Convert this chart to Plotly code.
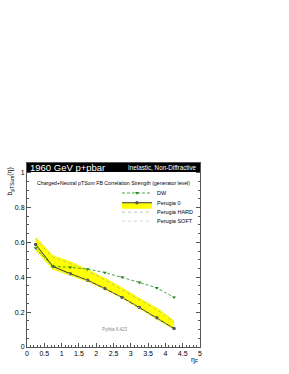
import plotly.graph_objects as go

eta = [0.25, 0.75, 1.25, 1.75, 2.25, 2.75, 3.25, 3.75, 4.25]
dw = [0.567, 0.462, 0.457, 0.447, 0.427, 0.400, 0.370, 0.339, 0.285]
perugia0 = [0.588, 0.462, 0.420, 0.383, 0.335, 0.284, 0.226, 0.167, 0.106]
band_upper = [0.630, 0.525, 0.490, 0.445, 0.395, 0.340, 0.280, 0.225, 0.150]
band_lower = [0.555, 0.445, 0.410, 0.375, 0.330, 0.280, 0.220, 0.160, 0.100]
perugia_hard = [0.620, 0.515, 0.480, 0.435, 0.385, 0.330, 0.272, 0.215, 0.143]
perugia_soft = [0.565, 0.452, 0.415, 0.380, 0.333, 0.282, 0.223, 0.163, 0.103]

x_ticks = [0, 0.5, 1, 1.5, 2, 2.5, 3, 3.5, 4, 4.5, 5]
x_tick_labels = ["0", "0.5", "1", "1.5", "2", "2.5", "3", "3.5", "4", "4.5", "5"]
y_ticks = [0, 0.2, 0.4, 0.6, 0.8, 1.0]
y_tick_labels = ["0", "0.2", "0.4", "0.6", "0.8", "1"]

FONT = "Liberation Sans, Arial, sans-serif"
YELLOW = "#ffff00"
GREEN = "#1f8a1f"
DARK = "#333333"

fig = go.Figure()

# band upper edge
fig.add_trace(go.Scatter(x=eta, y=band_upper, mode="lines",
                         line=dict(color=YELLOW, width=0.5), showlegend=False,
                         hoverinfo="skip"))
# band lower edge, filled to upper edge
fig.add_trace(go.Scatter(x=eta, y=band_lower, mode="lines", fill="tonexty",
                         fillcolor=YELLOW, line=dict(color=YELLOW, width=0.5),
                         showlegend=False, hoverinfo="skip"))
# Perugia 0
fig.add_trace(go.Scatter(x=eta, y=perugia0, mode="lines+markers", name="Perugia 0",
                         fill="tonexty", fillcolor=YELLOW,
                         line=dict(color=DARK, width=1),
                         marker=dict(symbol="circle", size=3.5, color="#555555"),
                         legend="legend2"))
# Perugia HARD / SOFT
fig.add_trace(go.Scatter(x=eta, y=perugia_hard, mode="lines", name="Perugia HARD",
                         line=dict(color="#b0b0b0", width=0.8, dash="dot"),
                         legend="legend3"))
fig.add_trace(go.Scatter(x=eta, y=perugia_soft, mode="lines", name="Perugia SOFT",
                         line=dict(color="#c8c8c8", width=0.8, dash="dot"),
                         legend="legend4"))
# DW
fig.add_trace(go.Scatter(x=eta, y=dw, mode="lines+markers", name="DW",
                         line=dict(color=GREEN, width=0.8, dash="3px,2px"),
                         marker=dict(symbol="triangle-down", size=3.5, color=GREEN),
                         legend="legend"))

axis_common = dict(showline=True, linecolor="#555555", linewidth=1, mirror="ticks",
                   ticks="inside", ticklen=4, tickcolor="#555555", showgrid=False,
                   zeroline=False, tickfont=dict(size=7, color="black", family=FONT))

fig.update_xaxes(range=[0, 5], tickvals=x_ticks, ticktext=x_tick_labels,
                 minor=dict(ticks="inside", ticklen=2, dtick=0.1, tickcolor="#555555"),
                 **axis_common)
fig.update_yaxes(range=[0, 1.055], tickvals=y_ticks, ticktext=y_tick_labels,
                 minor=dict(ticks="inside", ticklen=2, dtick=0.05, tickcolor="#555555"),
                 **axis_common)

def leg(ypos):
    return dict(x=0.52, y=ypos, xanchor="left", yanchor="middle",
                bgcolor="rgba(0,0,0,0)", borderwidth=0,
                font=dict(size=5.5, family=FONT, color="black"))

fig.update_layout(
    width=289, height=374,
    margin=dict(l=26.7, r=88.7, t=163, b=27.3),
    paper_bgcolor="white", plot_bgcolor="white",
    font=dict(family=FONT),
    legend=leg(0.837), legend2=leg(0.784), legend3=leg(0.733), legend4=leg(0.684),
    shapes=[dict(type="rect", xref="paper", yref="paper", x0=0, x1=1, y0=0.951, y1=1,
                 fillcolor="black", line=dict(width=0), layer="above")],
    annotations=[
        dict(text="1960 GeV p+pbar", xref="paper", yref="paper", x=0.008, y=0.975,
             xanchor="left", yanchor="middle", showarrow=False,
             font=dict(size=9.5, color="white", family=FONT)),
        dict(text="Inelastic, Non-Diffractive", xref="paper", yref="paper", x=0.992, y=0.975,
             xanchor="right", yanchor="middle", showarrow=False,
             font=dict(size=6.3, color="white", family=FONT)),
        dict(text="Charged+Neutral pTSum FB Correlation Strength (generator level)",
             xref="paper", yref="paper", x=0.048, y=0.893, xanchor="left", yanchor="middle",
             showarrow=False, font=dict(size=5.2, color="black", family=FONT)),
        dict(text="Pythia 6.423", xref="paper", yref="paper", x=0.422, y=0.096,
             xanchor="left", yanchor="middle", showarrow=False,
             font=dict(size=4.5, color="#888888", family=FONT)),
        dict(text="η<sub>F</sub>", xref="paper", yref="paper", x=0.97, y=-0.072,
             xanchor="center", yanchor="middle", showarrow=False,
             font=dict(size=7, color="black", family=FONT)),
        dict(text="b<sub>pTSum</sub>(η)", xref="paper", yref="paper", x=-0.096, y=0.902,
             xanchor="center", yanchor="middle", textangle=-90, showarrow=False,
             font=dict(size=7, color="black", family=FONT)),
    ],
)

fig.write_html("out.html", config={"displayModeBar": False},
               post_script="document.body.style.margin='0';")
